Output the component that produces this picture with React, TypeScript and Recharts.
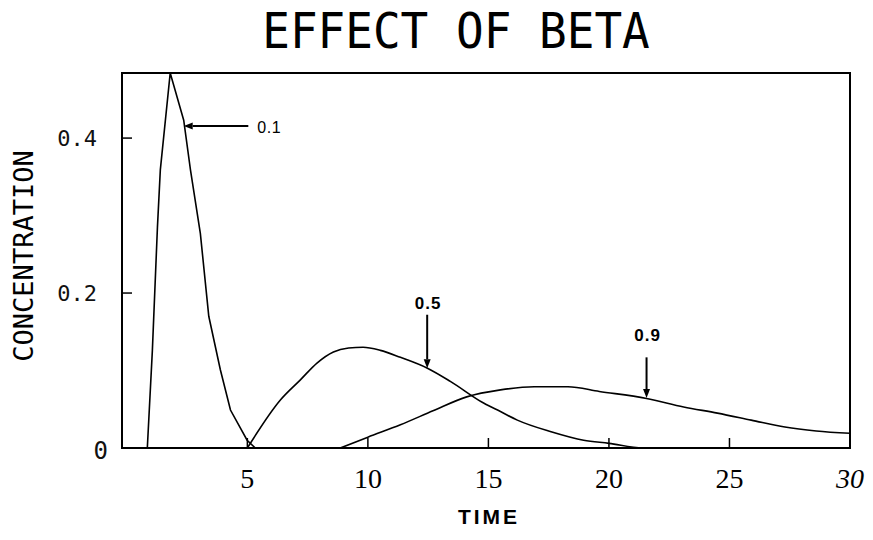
import { Line, LineChart, ReferenceArea, ReferenceLine, XAxis, YAxis } from "recharts";

const TIME_TICKS = [5, 10, 15, 20, 25, 30];
const CONC_TICKS = [0, 0.2, 0.4];

// beta = 0.1
const beta01Time = [0, 0.85, 1.06, 1.27, 1.39, 1.8, 2.36, 2.64, 3.05, 3.4, 3.88, 4.3, 4.99, 5.33, 30];
const beta01Conc = [0, 0, 0.126, 0.285, 0.359, 0.484, 0.423, 0.359, 0.277, 0.17, 0.101, 0.049, 0.01, 0, 0];

// beta = 0.5
const beta05Time = [5, 6.37, 7.2, 7.9, 8.57, 9.2, 9.8, 10.52, 11.35, 12.47, 13.42, 14.8, 15.5, 16.2, 17.6, 18.95, 20, 21.4, 30];
const beta05Conc = [0, 0.062, 0.088, 0.11, 0.124, 0.129, 0.13, 0.126, 0.117, 0.103, 0.086, 0.058, 0.047, 0.036, 0.021, 0.01, 0.006, 0, 0];

// beta = 0.9
const beta09Time = [8.86, 10, 11.35, 12.7, 14.1, 15.5, 16.9, 18.3, 19.6, 21.56, 23.1, 24.5, 25.9, 27.3, 28.6, 30];
const beta09Conc = [0, 0.014, 0.03, 0.048, 0.066, 0.075, 0.079, 0.079, 0.073, 0.064, 0.053, 0.045, 0.036, 0.027, 0.022, 0.019];

const toPoints = (ts: number[], cs: number[]) => ts.map((t, i) => ({ t, c: cs[i] }));

const beta01 = toPoints(beta01Time, beta01Conc);
const beta05 = toPoints(beta05Time, beta05Conc);
const beta09 = toPoints(beta09Time, beta09Conc);

const X_DOMAIN: [number, number] = [-0.2, 30];
const Y_DOMAIN: [number, number] = [0, 0.484];

const PLOTTER = "'DejaVu Sans Mono', monospace";
const X_GAP = 22;
const Y_GAP = 25;
const TICK_LEN = 10;

// tick label plus a short inward tick mark above the bottom edge
function TimeTick(props: any) {
  const { x, y, payload } = props;
  const v = payload.value;
  const axisY = y - X_GAP;
  return (
    <g>
      {v !== 30 && <line x1={x} x2={x} y1={axisY} y2={axisY - TICK_LEN} stroke="#000" strokeWidth={1.5} />}
      <text
        x={x}
        y={y}
        dy={18}
        textAnchor="middle"
        fontFamily="'Liberation Serif', serif"
        fontSize={28}
        fontStyle={v === 30 ? "italic" : "normal"}
        fill="#000"
      >
        {v}
      </text>
    </g>
  );
}

function ConcTick(props: any) {
  const { x, y, payload } = props;
  const v = payload.value;
  const axisX = x + Y_GAP;
  return (
    <g>
      {v !== 0 && <line x1={axisX} x2={axisX + TICK_LEN} y1={y} y2={y} stroke="#000" strokeWidth={1.5} />}
      <text
        x={v === 0 ? x + 11 : x}
        y={y}
        dy={v === 0 ? 11 : 8}
        textAnchor="end"
        fontFamily={PLOTTER}
        fontSize={v === 0 ? 24 : 22}
        fill="#111"
      >
        {v === 0 ? "0" : v.toFixed(1)}
      </text>
    </g>
  );
}

// arrow with a small filled head at the curve end and its beta label at the tail
const arrowShape =
  (text: string, dx: number, dy: number, anchor: "start" | "middle", bold: boolean) =>
  (p: any) => {
    const { x1, y1, x2, y2 } = p;
    const ang = Math.atan2(y2 - y1, x2 - x1);
    const len = 9;
    const half = 3.5;
    const cos = Math.cos(ang);
    const sin = Math.sin(ang);
    const bx = x2 - len * cos;
    const by = y2 - len * sin;
    return (
      <g>
        <line x1={x1} y1={y1} x2={bx} y2={by} stroke="#000" strokeWidth={2} />
        <polygon
          points={`${x2},${y2} ${bx - half * sin},${by + half * cos} ${bx + half * sin},${by - half * cos}`}
          fill="#000"
        />
        <text
          x={x1 + dx}
          y={y1 + dy}
          textAnchor={anchor}
          fontFamily="'Liberation Sans', Arial, sans-serif"
          fontSize={bold ? 17 : 16}
          fontWeight={bold ? 700 : 400}
          letterSpacing={bold ? 1 : 0.5}
          fill="#000"
        >
          {text}
        </text>
      </g>
    );
  };

export default function App() {
  return (
    <div style={{ position: "absolute", left: 0, top: 0, width: 873, height: 540, background: "#fff" }}>
      <LineChart width={873} height={540} margin={{ top: 73, right: 23, bottom: 42, left: 72 }}>
        <XAxis
          type="number"
          dataKey="t"
          domain={X_DOMAIN}
          ticks={TIME_TICKS}
          interval={0}
          allowDataOverflow
          height={50}
          axisLine={false}
          tickLine={false}
          tickSize={0}
          tickMargin={X_GAP}
          tick={TimeTick}
        />
        <YAxis
          type="number"
          domain={Y_DOMAIN}
          ticks={CONC_TICKS}
          interval={0}
          allowDataOverflow
          width={50}
          axisLine={false}
          tickLine={false}
          tickSize={0}
          tickMargin={Y_GAP}
          tick={ConcTick}
        />
        <ReferenceArea
          x1={X_DOMAIN[0]}
          x2={X_DOMAIN[1]}
          y1={Y_DOMAIN[0]}
          y2={Y_DOMAIN[1]}
          fill="none"
          fillOpacity={0}
          stroke="#000"
          strokeWidth={2}
        />
        <Line data={beta01} dataKey="c" type="linear" stroke="#000" strokeWidth={1.6} dot={false} isAnimationActive={false} />
        <Line data={beta05} dataKey="c" type="monotone" stroke="#000" strokeWidth={1.6} dot={false} isAnimationActive={false} />
        <Line data={beta09} dataKey="c" type="monotone" stroke="#000" strokeWidth={1.6} dot={false} isAnimationActive={false} />
        <ReferenceLine
          segment={[{ x: 5.04, y: 0.4155 }, { x: 2.36, y: 0.4155 }]}
          shape={arrowShape("0.1", 9, 6.5, "start", false)}
        />
        <ReferenceLine
          segment={[{ x: 12.46, y: 0.172 }, { x: 12.46, y: 0.103 }]}
          shape={arrowShape("0.5", 1, -6, "middle", true)}
        />
        <ReferenceLine
          segment={[{ x: 21.56, y: 0.117 }, { x: 21.56, y: 0.0645 }]}
          shape={arrowShape("0.9", 1, -16, "middle", true)}
        />
      </LineChart>
      <svg width={873} height={540} style={{ position: "absolute", left: 0, top: 0, pointerEvents: "none" }}>
        <text
          x={0}
          y={0}
          transform="translate(456 48) scale(1 1.08)"
          textAnchor="middle"
          fontFamily={PLOTTER}
          fontSize={46}
          fill="#000"
        >
          EFFECT OF BETA
        </text>
        <text
          x={0}
          y={0}
          transform="translate(33 256) rotate(-90)"
          textAnchor="middle"
          fontFamily={PLOTTER}
          fontSize={27}
          fill="#000"
        >
          CONCENTRATION
        </text>
        <text
          x={489}
          y={524}
          textAnchor="middle"
          fontFamily="'Liberation Sans', Arial, sans-serif"
          fontSize={21}
          fontWeight={700}
          letterSpacing={3}
          fill="#000"
        >
          TIME
        </text>
      </svg>
    </div>
  );
}
